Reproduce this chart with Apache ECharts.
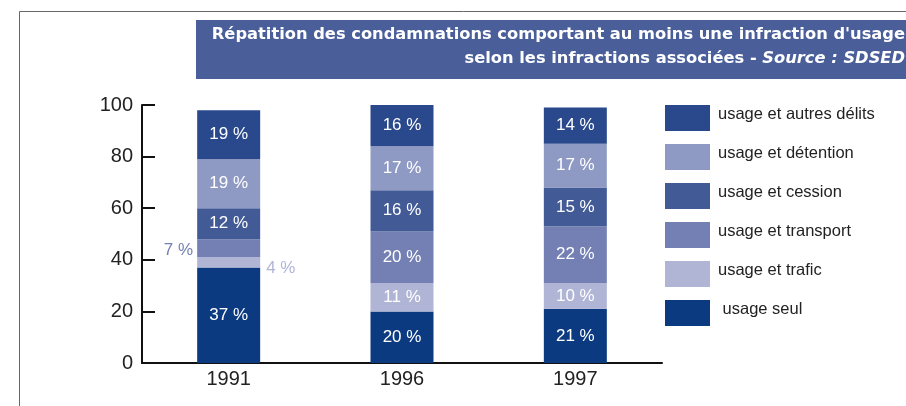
<!DOCTYPE html>
<html>
<head>
<meta charset="utf-8">
<script src="https://cdn.jsdelivr.net/npm/echarts@6/dist/echarts.min.js"></script>
<style>
  html, body { margin: 0; padding: 0; background: #fff; }
  #main { width: 906px; height: 406px; }
</style>
</head>
<body>
<div id="main"></div>
<script>
const years = ["1991", "1996", "1997"];
const usageSeul = [37, 20, 21];
const usageTrafic = [4, 11, 10];
const usageTransport = [7, 20, 22];
const usageCession = [12, 16, 15];
const usageDetention = [19, 17, 17];
const usageAutres = [19, 16, 14];
const yTicks = [0, 20, 40, 60, 80, 100];

const nameSeul = " usage seul";
const nameTrafic = "usage et trafic";
const nameTransport = "usage et transport";
const nameCession = "usage et cession";
const nameDetention = "usage et détention";
const nameAutres = "usage et autres délits";

const colors = {
  seul: "#0c3a80",
  trafic: "#b0b5d6",
  transport: "#7480b3",
  cession: "#425a96",
  detention: "#8f9ac4",
  autres: "#29498c",
};

const pct = (p) => p.value + " %";

const insideLabel = {
  show: true,
  position: "inside",
  formatter: pct,
  color: "#fff",
  fontFamily: "Liberation Sans",
  fontSize: 17,
};

const makeSerie = (name, values, color, special) => ({
  name: name,
  type: "bar",
  stack: "total",
  barWidth: 63,
  itemStyle: { color: color },
  label: insideLabel,
  data: values.map((v, i) => (special && special[i] ? { value: v, label: special[i] } : v)),
});

const chart = echarts.init(document.getElementById("main"));

chart.setOption({
  animation: false,
  graphic: [
    {
      type: "rect",
      shape: { x: 19.5, y: 11.5, width: 1000, height: 1000 },
      style: { fill: "none", stroke: "#666", lineWidth: 1 },
      silent: true,
    },
    {
      type: "rect",
      shape: { x: 196, y: 20, width: 720, height: 59 },
      style: { fill: "#4a5f9a" },
      silent: true,
    },
    {
      type: "text",
      x: 905,
      y: 23,
      style: {
        text: "Répatition des condamnations comportant au moins une infraction d'usage\nselon les infractions associées - {i|Source : SDSED}",
        align: "right",
        fill: "#fff",
        fontFamily: "DejaVu Sans",
        fontWeight: "bold",
        fontSize: 16.3,
        lineHeight: 24,
        rich: {
          i: { fontStyle: "italic", fontFamily: "DejaVu Sans", fontWeight: "bold", fontSize: 16.3, fill: "#fff" },
        },
      },
      silent: true,
    },
  ],
  legend: {
    orient: "vertical",
    left: 665,
    top: 105,
    padding: 0,
    itemWidth: 45,
    itemHeight: 26,
    itemGap: 13,
    icon: "rect",
    data: [nameAutres, nameDetention, nameCession, nameTransport, nameTrafic, nameSeul],
    formatter: (n) => "{a|" + n + "}",
    textStyle: {
      rich: {
        a: {
          fontFamily: "Liberation Sans",
          fontSize: 16.5,
          color: "#222",
          lineHeight: 18,
          padding: [0, 0, 7, 3],
        },
      },
    },
  },
  grid: { left: 142, right: 244, top: 105, bottom: 43 },
  xAxis: {
    type: "category",
    data: years,
    axisLine: { lineStyle: { color: "#111", width: 2 } },
    axisTick: { inside: true, length: 5, lineStyle: { color: "#111", width: 2 } },
    axisLabel: { fontFamily: "Liberation Sans", fontSize: 20, color: "#222", margin: 6 },
  },
  yAxis: {
    type: "value",
    min: yTicks[0],
    max: yTicks[yTicks.length - 1],
    interval: yTicks[1] - yTicks[0],
    axisLine: { show: true, lineStyle: { color: "#111", width: 2 } },
    axisTick: { show: true, inside: true, length: 13, lineStyle: { color: "#111", width: 2 } },
    axisLabel: { fontFamily: "Liberation Sans", fontSize: 20, color: "#222", margin: 9 },
    splitLine: { show: false },
  },
  series: [
    makeSerie(nameSeul, usageSeul, colors.seul),
    makeSerie(nameTrafic, usageTrafic, colors.trafic, [
      { show: true, position: "right", distance: 6, offset: [0, 6], formatter: pct, color: colors.trafic, fontFamily: "Liberation Sans", fontSize: 17 },
    ]),
    makeSerie(nameTransport, usageTransport, colors.transport, [
      { show: true, position: "left", distance: 4, offset: [0, 2], formatter: pct, color: colors.transport, fontFamily: "Liberation Sans", fontSize: 17 },
    ]),
    makeSerie(nameCession, usageCession, colors.cession),
    makeSerie(nameDetention, usageDetention, colors.detention),
    makeSerie(nameAutres, usageAutres, colors.autres),
  ],
});
</script>
</body>
</html>
